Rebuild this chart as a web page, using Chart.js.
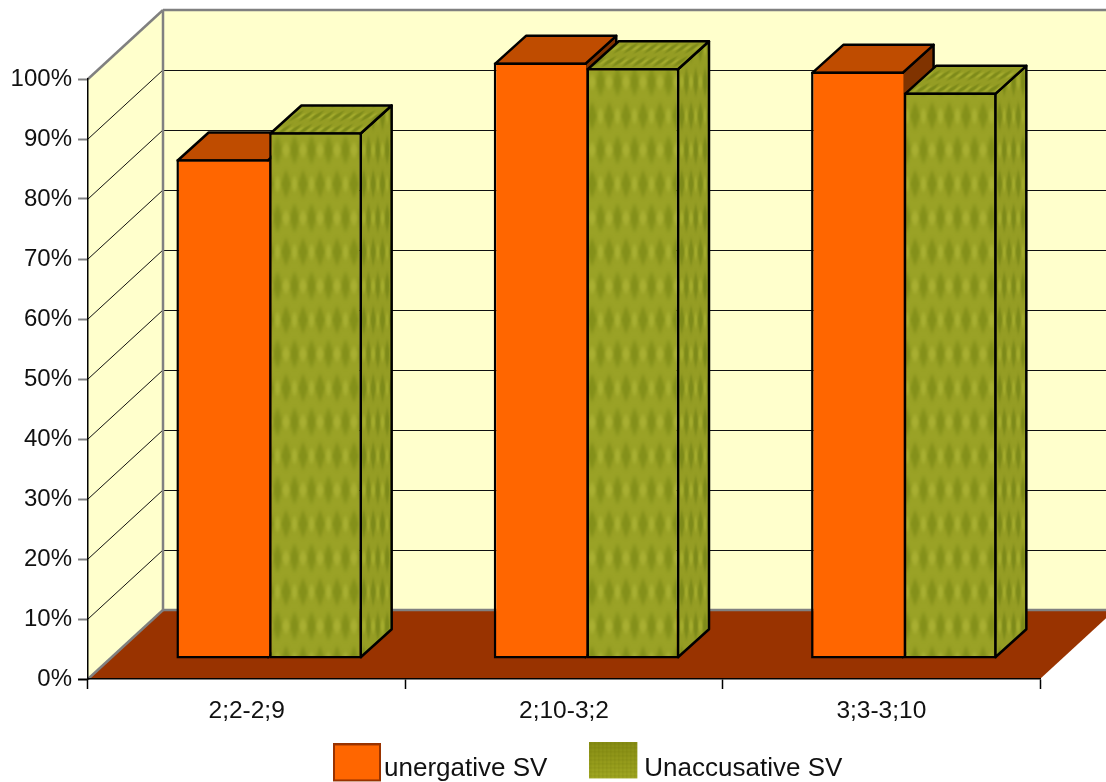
<!DOCTYPE html>
<html>
<head>
<meta charset="utf-8">
<title>SV chart</title>
<script src="https://cdn.jsdelivr.net/npm/chart.js@4"></script>
<style>
  html, body { margin: 0; padding: 0; background: #ffffff; overflow: hidden; }
  canvas { display: block; }
</style>
</head>
<body>
<canvas id="chart" width="1106" height="782"></canvas>
<script>
const categories = ['2;2-2;9', '2;10-3;2', '3;3-3;10']
const seriesNames = ['unergative SV', 'Unaccusative SV']
const unergativeValues = [83.3, 99.4, 97.9]
const unaccusativeValues = [87.8, 98.5, 94.4]
const yTickStep = 10

const wallDepth = { x: 75, y: -69 }
const barShift = { x: 22.5, y: -20 }
const barDepth = { x: 31, y: -28 }
const barBorder = 2.5

Chart.defaults.font.family = '"Liberation Sans", Arial, sans-serif'
Chart.defaults.color = '#111111'

function makeTexture(dark, base, light) {
  const tile = document.createElement('canvas')
  tile.width = 34
  tile.height = 68
  const c = tile.getContext('2d')
  c.fillStyle = base
  c.fillRect(0, 0, 34, 68)
  c.filter = 'blur(1.6px)'
  function diamond(x, y, color, w, h) {
    c.fillStyle = color
    c.beginPath()
    c.moveTo(x, y - h)
    c.lineTo(x + w, y)
    c.lineTo(x, y + h)
    c.lineTo(x - w, y)
    c.closePath()
    c.fill()
  }
  for (const x of [0, 17, 34]) {
    for (const y of [-34, 34, 102]) diamond(x, y, dark, 5, 15)
    for (const y of [0, 68]) diamond(x, y, light, 4, 9)
  }
  for (const x of [8.5, 25.5]) {
    for (const y of [0, 68]) diamond(x, y, dark, 5, 15)
    diamond(x, 34, light, 4, 9)
  }
  return tile
}

const frontTile = makeTexture('#84901a', '#9aa226', '#a9b033')
const sideTile = makeTexture('#7d8a1a', '#959d24', '#a4ac2e')

const probe = document.createElement('canvas').getContext('2d')
const olivePattern = probe.createPattern(frontTile, 'repeat')
const oliveSidePattern = probe.createPattern(sideTile, 'repeat')
oliveSidePattern.setTransform(new DOMMatrix().scale(0.55, 1))
const oliveTopPattern = probe.createPattern(sideTile, 'repeat')
oliveTopPattern.setTransform(new DOMMatrix([0.6, 0, -0.5, 0.4, 0, 0]))

function makeOrangeSwatch() {
  const s = document.createElement('canvas')
  s.width = 48
  s.height = 50
  const c = s.getContext('2d')
  c.fillStyle = '#993300'
  c.fillRect(0, 0, 48, 38)
  c.fillStyle = '#ff6600'
  c.fillRect(2, 2, 44, 34)
  return s
}

function makeOliveSwatch() {
  const s = document.createElement('canvas')
  s.width = 56
  s.height = 52
  const c = s.getContext('2d')
  const g = c.createLinearGradient(0, 0, 0, 36)
  g.addColorStop(0, '#878d14')
  g.addColorStop(1, '#a0a722')
  c.fillStyle = g
  c.fillRect(0, 0, 48, 36)
  c.fillStyle = 'rgba(90,100,0,0.14)'
  for (let x = 1; x < 48; x += 4) c.fillRect(x, 0, 1, 36)
  for (let y = 1; y < 36; y += 4) c.fillRect(0, y, 48, 1)
  return s
}

const legendSwatches = [makeOrangeSwatch(), makeOliveSwatch()]

function strokeSegment(ctx, x1, y1, x2, y2, color, width) {
  ctx.strokeStyle = color
  ctx.lineWidth = width
  ctx.beginPath()
  ctx.moveTo(x1, y1)
  ctx.lineTo(x2, y2)
  ctx.stroke()
}

function fillFace(ctx, points, fill) {
  ctx.fillStyle = fill
  ctx.strokeStyle = '#000000'
  ctx.lineWidth = barBorder
  ctx.lineJoin = 'round'
  ctx.beginPath()
  points.forEach((p, i) => i ? ctx.lineTo(p[0], p[1]) : ctx.moveTo(p[0], p[1]))
  ctx.closePath()
  ctx.fill()
  ctx.stroke()
}

// walls and floor sit behind the axes, so they go in first
const wallsPlugin = {
  id: 'walls',
  beforeDraw(chart) {
    const { ctx, chartArea: area, scales } = chart
    const yFor = v => scales.y.getPixelForValue(v)
    const dx = wallDepth.x
    const dy = wallDepth.y
    const backLeft = area.left + dx
    const backRight = area.right + dx

    ctx.save()
    ctx.fillStyle = '#ffffcc'
    ctx.beginPath()
    ctx.moveTo(area.left, yFor(100))
    ctx.lineTo(backLeft, yFor(100) + dy)
    ctx.lineTo(backRight, yFor(100) + dy)
    ctx.lineTo(backRight, yFor(0) + dy)
    ctx.lineTo(backLeft, yFor(0) + dy)
    ctx.lineTo(area.left, yFor(0))
    ctx.closePath()
    ctx.fill()

    ctx.fillStyle = '#993300'
    ctx.beginPath()
    ctx.moveTo(area.left, yFor(0))
    ctx.lineTo(backLeft, yFor(0) + dy)
    ctx.lineTo(backRight, yFor(0) + dy)
    ctx.lineTo(area.right, yFor(0))
    ctx.closePath()
    ctx.fill()

    for (const tick of scales.y.ticks) {
      const y = yFor(tick.value)
      const edge = tick.value === 0 || tick.value === 100
      const color = edge ? '#808080' : '#111111'
      const width = edge ? 2.5 : 1
      strokeSegment(ctx, area.left, y, backLeft, y + dy, color, width)
      strokeSegment(ctx, backLeft, y + dy + (edge ? 0 : 0.5), backRight, y + dy + (edge ? 0 : 0.5), color, width)
    }
    strokeSegment(ctx, backLeft, yFor(100) + dy, backLeft, yFor(0) + dy, '#808080', 2.5)
    ctx.restore()
  }
}

function drawBarFaces(ctx, meta, sideFill, topFill) {
  const inset = barBorder / 2
  for (const bar of meta.data) {
    const left = bar.x - bar.width / 2 + inset
    const right = bar.x + bar.width / 2 - inset
    const top = bar.y + inset
    const base = bar.base - inset
    const dx = barDepth.x
    const dy = barDepth.y
    fillFace(ctx, [[right, top], [right + dx, top + dy], [right + dx, base + dy], [right, base]], sideFill)
    fillFace(ctx, [[left, top], [left + dx, top + dy], [right + dx, top + dy], [right, top]], topFill)
  }
}

// the bars stand in the middle of the floor, with a top and a side face each.
// Chart.js paints the first dataset last, but here the second one has to be on top
const depthPlugin = {
  id: 'depth',
  beforeDatasetDraw(chart, args) {
    if (args.index === 1) return false
    chart.ctx.save()
    chart.ctx.translate(barShift.x, barShift.y)
    drawBarFaces(chart.ctx, args.meta, '#803300', '#bf4c00')
  },
  afterDatasetDraw(chart) {
    chart.ctx.restore()
  },
  afterDatasetsDraw(chart) {
    const meta = chart.getDatasetMeta(1)
    chart.ctx.save()
    chart.ctx.translate(barShift.x, barShift.y)
    drawBarFaces(chart.ctx, meta, oliveSidePattern, oliveTopPattern)
    meta.controller.draw()
    chart.ctx.restore()
  }
}

const legendPlugin = {
  id: 'legendPlace',
  beforeLayout(chart) {
    const legend = chart.legend
    const baseFit = Object.getPrototypeOf(legend).fit
    legend.fit = function () {
      baseFit.call(this)
      this.height = 58
    }
  },
  afterLayout(chart) {
    const padding = chart.options.plugins.legend.labels.padding
    chart.legend.left = 343 - padding
    chart.legend.top = 771 - padding - 15.6
  }
}

new Chart(document.getElementById('chart'), {
  type: 'bar',
  data: {
    labels: categories,
    datasets: [
      {
        label: seriesNames[0],
        data: unergativeValues,
        backgroundColor: '#ff6600',
        borderSkipped: 'right'
      },
      {
        label: seriesNames[1],
        data: unaccusativeValues,
        backgroundColor: olivePattern,
        borderSkipped: false
      }
    ]
  },
  options: {
    responsive: false,
    animation: false,
    layout: { padding: { top: 79, right: 66 } },
    datasets: {
      bar: {
        categoryPercentage: 0.5846,
        barPercentage: 1,
        borderColor: '#000000',
        borderWidth: barBorder,
        clip: false
      }
    },
    scales: {
      x: {
        afterFit(scale) { scale.height = 45 },
        border: { color: '#000000', width: 1.5 },
        grid: { offset: true, drawOnChartArea: false, tickLength: 10, tickColor: '#000000', tickWidth: 1.5 },
        ticks: { font: { size: 24.5 }, padding: 8, color: '#111111', maxRotation: 0 }
      },
      y: {
        min: 0,
        max: 100,
        afterFit(scale) { scale.width = 88 },
        border: { color: '#000000', width: 1.5 },
        grid: {
          drawOnChartArea: false,
          tickLength: 10,
          tickColor: ctx => ctx.tick.value === 0 ? '#000000' : '#808080',
          tickWidth: 2
        },
        ticks: {
          stepSize: yTickStep,
          font: { size: 24 },
          padding: 6,
          color: '#111111',
          callback: v => v + '%'
        }
      }
    },
    plugins: {
      tooltip: { enabled: false },
      title: { display: false },
      legend: {
        position: 'bottom',
        align: 'start',
        labels: {
          usePointStyle: true,
          pointStyleWidth: 28,
          padding: 56,
          font: { size: 26 },
          color: '#111111',
          generateLabels(chart) {
            const items = Chart.defaults.plugins.legend.labels.generateLabels(chart)
            items.forEach(item => { item.pointStyle = legendSwatches[item.datasetIndex] })
            return items
          }
        }
      }
    }
  },
  plugins: [wallsPlugin, depthPlugin, legendPlugin]
})
</script>
</body>
</html>
